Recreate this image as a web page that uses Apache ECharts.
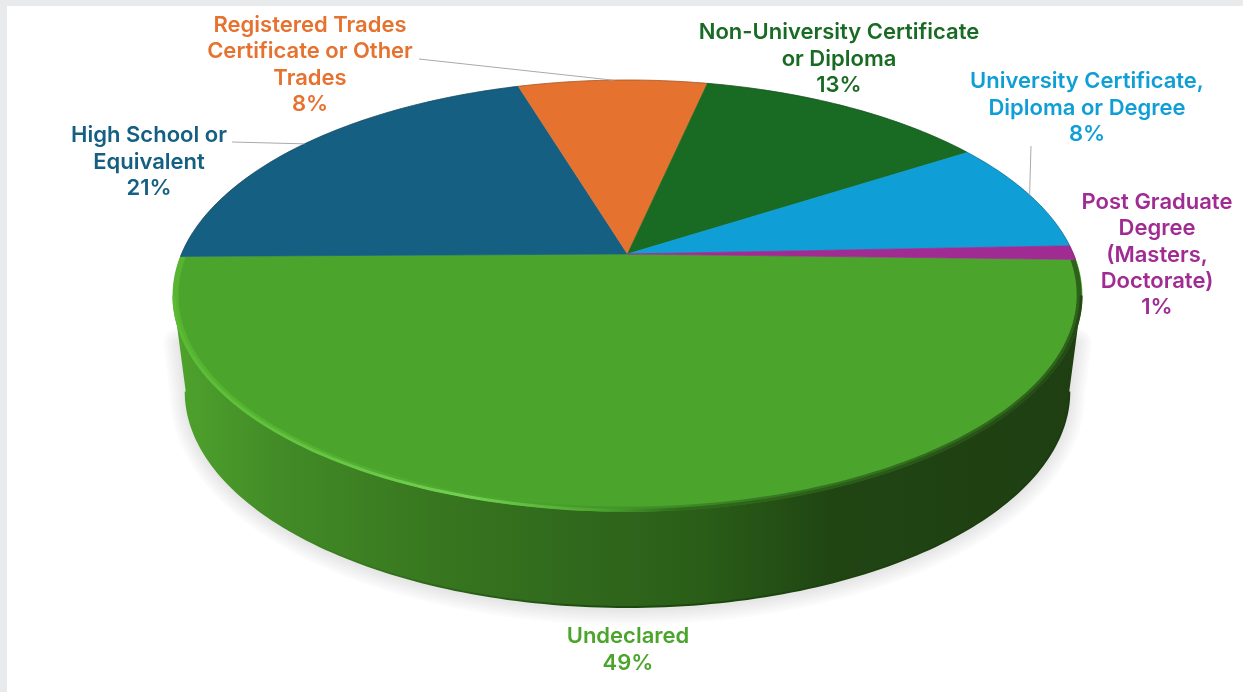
<!DOCTYPE html>
<html lang="en">
<head>
    <meta charset="UTF-8">
    <title>Education</title>
    <style>
        html, body { width: 100%; height: 100%; margin: 0; padding: 0; background: #e9eaec; overflow: hidden; }
        #sheet { position: absolute; left: 7px; top: 6px; right: 0; bottom: 0; background: #fff; }
        #chart { position: absolute; left: 0; top: 0; width: 1243px; height: 692px; }
    </style>
    <script src="https://cdn.jsdelivr.net/npm/echarts@6/dist/echarts.min.js"></script>
</head>
<body>
    <div id="sheet"></div>
    <div id="chart"></div>
    <script>
        var categories = [
            'Undeclared',
            'High School or\nEquivalent',
            'Registered Trades\nCertificate or Other\nTrades',
            'Non-University Certificate\nor Diploma',
            'University Certificate,\nDiploma or Degree',
            'Post Graduate\nDegree\n(Masters,\nDoctorate)'
        ];
        var shares = [49.4, 20.5, 8.1, 12.5, 8.45, 1.05];
        var sliceColors = ['#4ba52d', '#156082', '#e67230', '#196b24', '#0f9ed5', '#a02b93'];

        // label centre and where its leader line starts (none for some slices)
        var labelCentres = [[628, 650], [149, 162], [310, 65], [839, 59], [1087, 108], [1157, 255]];
        var leaderStarts = [null, [232, 142], [419, 59], null, [1031, 146], null];

        // the pie plane, seen in perspective
        var cx = 627.5, cy = 254, startAngle = 91.5;
        var persp = -0.1926, scaleX = 446, scaleY = 207.5;
        var wallHeight = 96, wallShrink = 0.972;
        var sideAngle = Math.acos(persp) * 180 / Math.PI; // silhouette of the side wall
        var shadowWidths = [32, 28, 24, 20, 16, 12, 8, 4];

        var total = shares.reduce(function (a, b) { return a + b; }, 0);

        function project(deg, r) {
            var a = deg * Math.PI / 180;
            var u = r * Math.sin(a), v = -r * Math.cos(a);
            var d = 1 + persp * v;
            return [cx + scaleX * u / d, cy + scaleY * v / d];
        }

        function arc(from, to, r) {
            var pts = [];
            var n = Math.max(2, Math.ceil(to - from));
            for (var i = 0; i <= n; i++) {
                pts.push(project(from + (to - from) * i / n, r));
            }
            return pts;
        }

        function lower(p) {
            return [cx + (p[0] - cx) * wallShrink, p[1] + wallHeight];
        }

        function xGradient(stops) {
            return {
                type: 'linear', x: 172, y: 0, x2: 1083, y2: 0, global: true,
                colorStops: stops.map(function (s) {
                    return { offset: (s[0] - 172) / 911, color: s[1] };
                })
            };
        }

        var wallFill = xGradient([
            [172, '#4fa32d'], [280, '#428b27'], [430, '#38771f'], [560, '#316a1d'],
            [700, '#2a5e18'], [830, '#204513'], [1083, '#1f3f12']
        ]);
        var wallEdge = xGradient([
            [172, '#4fa32d'], [300, '#3f8725'], [450, '#2b6218'], [620, '#1c4a0e'], [1083, '#1c3a10']
        ]);
        var rimWide = xGradient([
            [172, '#58b632'], [330, '#55b233'], [520, '#4ba52d'], [640, '#3f8f28'],
            [800, '#33701f'], [1083, '#2a5a18']
        ]);
        var rimThin = xGradient([
            [172, '#5abb33'], [330, '#66c743'], [470, '#72d052'], [600, '#4ba52d'],
            [680, '#2f6a1a'], [1083, '#234a14']
        ]);

        function renderSlice(params, api) {
            var i = params.dataIndex;
            var before = 0;
            for (var j = 0; j < i; j++) before += shares[j];
            var a0 = startAngle + before / total * 360;
            var a1 = a0 + api.value(0) / total * 360;
            var mid = (a0 + a1) / 2;
            var children = [];

            // side wall, only the front part of the pie has one
            var w0 = Math.max(a0, sideAngle), w1 = Math.min(a1, 360 - sideAngle);
            if (w1 > w0) {
                var top = arc(w0, w1, 1);
                var bottom = top.map(lower);

                // soft shadow on the floor, stacked see-through strokes
                var floor = bottom.map(function (p) { return [p[0], p[1] + 2]; });
                floor.unshift([(top[0][0] + bottom[0][0]) / 2, top[0][1] + 48]);
                floor.push([(top[top.length - 1][0] + bottom[bottom.length - 1][0]) / 2, top[top.length - 1][1] + 48]);
                shadowWidths.forEach(function (w) {
                    children.push({
                        type: 'polyline',
                        shape: { points: floor },
                        style: { fill: null, stroke: 'rgba(0,0,0,0.016)', lineWidth: w, lineCap: 'round', lineJoin: 'round' }
                    });
                });

                children.push({
                    type: 'polygon',
                    shape: { points: top.concat(bottom.slice().reverse()) },
                    style: { fill: wallFill }
                });
                children.push({
                    type: 'polyline',
                    shape: { points: bottom },
                    style: { fill: null, stroke: wallEdge, lineWidth: 2 }
                });
            }

            // same colour stroke closes the hairlines between neighbouring slices
            children.push({
                type: 'polygon',
                shape: { points: [[cx, cy]].concat(arc(a0, a1, 1)) },
                style: { fill: sliceColors[i], stroke: sliceColors[i], lineWidth: 0.7 }
            });

            if (w1 > w0) {
                children.push({
                    type: 'polyline',
                    shape: { points: arc(a0, a1, 0.994) },
                    style: { fill: null, stroke: rimWide, lineWidth: 5, opacity: 0.9 }
                });
                children.push({
                    type: 'polyline',
                    shape: { points: arc(w0, w1, 0.998) },
                    style: { fill: null, stroke: rimThin, lineWidth: 3 }
                });
            } else {
                children.push({
                    type: 'polyline',
                    shape: { points: arc(a0, a1, 1) },
                    style: { fill: null, stroke: 'rgba(0,0,0,0.22)', lineWidth: 1 }
                });
            }

            if (leaderStarts[i]) {
                children.push({
                    type: 'line',
                    shape: {
                        x1: leaderStarts[i][0], y1: leaderStarts[i][1],
                        x2: project(mid, 1)[0], y2: project(mid, 1)[1]
                    },
                    style: { stroke: '#a9a9a9', lineWidth: 1 }
                });
            }

            children.push({
                type: 'text',
                x: labelCentres[i][0],
                y: labelCentres[i][1],
                style: {
                    text: categories[i] + '\n' + Math.round(api.value(0)) + '%',
                    fill: sliceColors[i],
                    fontFamily: 'Inter',
                    fontWeight: 600,
                    fontSize: 22,
                    lineHeight: 26.4,
                    align: 'center',
                    verticalAlign: 'middle'
                }
            });

            return { type: 'group', children: children };
        }

        var chart = echarts.init(document.getElementById('chart'));
        chart.setOption({
            animation: false,
            series: [{
                type: 'custom',
                coordinateSystem: 'none',
                silent: true,
                data: shares,
                renderItem: renderSlice
            }]
        });
    </script>
</body>
</html>
